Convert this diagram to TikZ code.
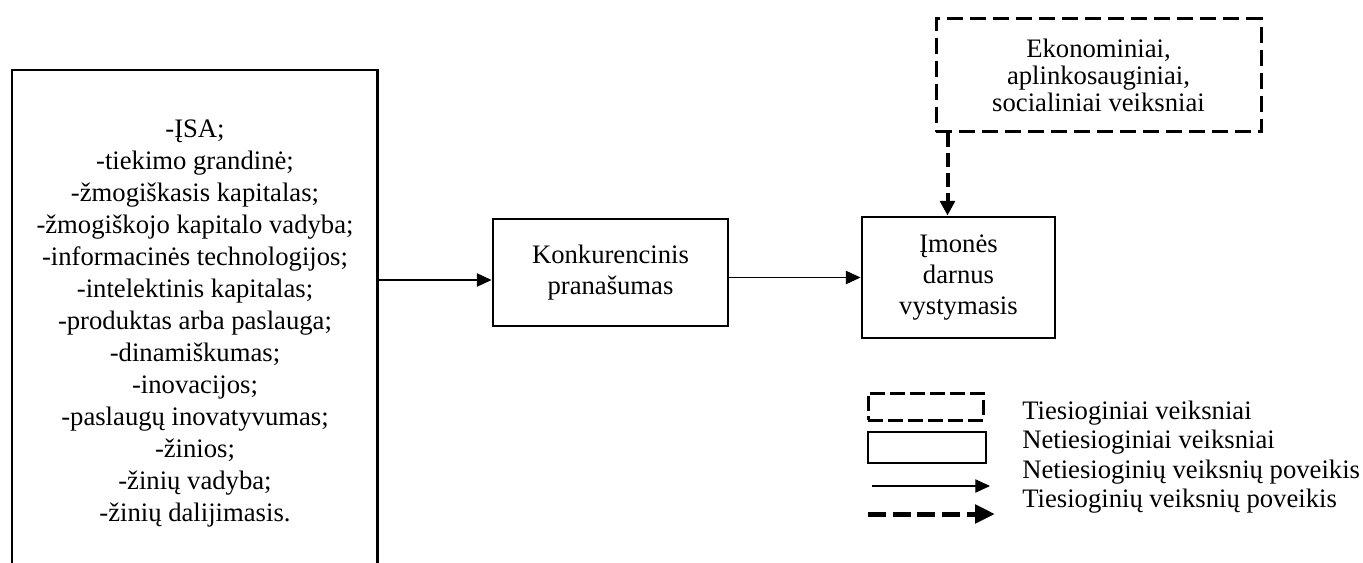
\documentclass[tikz,border=0pt]{standalone}
\usepackage{fontspec}
\setmainfont{Liberation Serif}
\usetikzlibrary{arrows.meta}
\begin{document}
\begin{tikzpicture}[x=0.75pt,y=-0.75pt,
  every node/.style={font=\fontsize{20pt}{24pt}\selectfont, align=center, inner sep=0pt},
  boxline/.style={draw, line width=2.2pt},
  solidbox/.style={boxline},
  dashbox/.style={draw, line width=2.25pt, dash pattern=on 12pt off 5.25pt},
  conn/.style={line width=0.8pt, -{Triangle[length=11pt,width=10pt]}},
  darr/.style={line width=3pt, dash pattern=on 10.5pt off 4.5pt, -{Triangle[length=11pt,width=11pt]}},
  bigdarr/.style={line width=3.75pt, dash pattern=on 13.5pt off 5pt, -{Triangle[length=15pt,width=13.5pt]}}
]
\useasboundingbox (0,0) rectangle (1363,563);

% left box (open at the bottom)
\node[anchor=north west, minimum width=273.75pt, minimum height=369.75pt] (L) at (12,70) {};
\draw[boxline] (L.south west) -- (L.north west) -- (L.north east) -- (L.south east);
\node (Ltxt) at (195,323.5) {-ĮSA;\\-tiekimo grandinė;\\-žmogiškasis kapitalas;\\-žmogiškojo kapitalo vadyba;\\-informacinės technologijos;\\-intelektinis kapitalas;\\-produktas arba paslauga;\\-dinamiškumas;\\-inovacijos;\\-paslaugų inovatyvumas;\\-žinios;\\-žinių vadyba;\\-žinių dalijimasis.};

% Konkurencinis pranasumas
\node[solidbox, minimum width=176.25pt, minimum height=80.25pt,
  font=\fontsize{20pt}{23.25pt}\selectfont] (K) at (610.5,272.5) {Konkurencinis\\pranašumas};

% Imones darnus vystymasis
\node[solidbox, minimum width=144.75pt, minimum height=90.75pt,
  font=\fontsize{20pt}{23.5pt}\selectfont] (I) at (958.5,277.5) {Įmonės\\darnus\\vystymasis};

% dashed factors box
\node[dashbox, minimum width=243.75pt, minimum height=84.75pt,
  font=\fontsize{20pt}{20.5pt}\selectfont] (D) at (1098.5,75.5) {Ekonominiai,\\aplinkosauginiai,\\socialiniai veiksniai};

% connectors
\coordinate (Le) at (377,280);
\draw[conn] (Le) -- (Le -| K.west);
\draw[conn] (K.east |- I.west) -- (I.west);
\draw[darr] ([xshift=9.75pt]D.south west) -- ([xshift=9.75pt]D.south west |- I.north);

% legend
\node[draw, line width=2.25pt, dash pattern=on 11.25pt off 3.75pt, minimum width=86.25pt, minimum height=20.25pt] (LD) at (925.5,406.5) {};
\node[draw, line width=1.9pt, minimum width=88.5pt, minimum height=23.25pt] (LS) at (927,447.5) {};
\coordinate (A1s) at (872,486);
\coordinate (A1e) at (990,486);
\draw[conn] (A1s) -- (A1e);
\coordinate (A2s) at (868,514);
\coordinate (A2e) at (995,514);
\draw[bigdarr] (A2s) -- (A2e);
\node[anchor=west, align=left, font=\fontsize{20pt}{22pt}\selectfont] (LT) at (1022,457) {Tiesioginiai veiksniai\\Netiesioginiai veiksniai\\Netiesioginių veiksnių poveikis\\Tiesioginių veiksnių poveikis};
\end{tikzpicture}
\end{document}
